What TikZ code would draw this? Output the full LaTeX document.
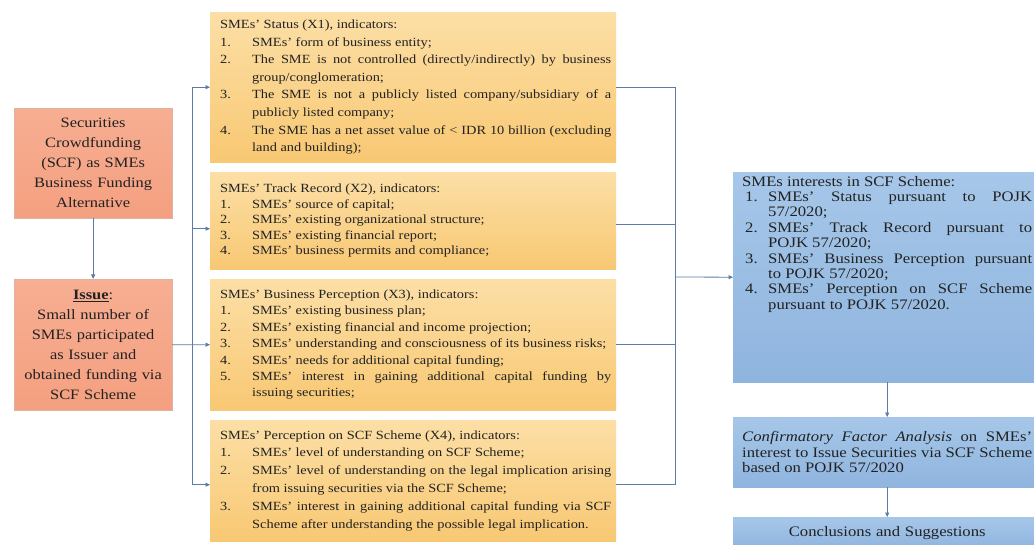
\documentclass[tikz,border=0pt]{standalone}
\usepackage{fontspec}
\setmainfont{Liberation Serif}[FakeStretch=1.15]
\usetikzlibrary{arrows.meta}
\definecolor{linec}{HTML}{5C7BA8}
\definecolor{orgA}{HTML}{F7AE92}
\definecolor{orgB}{HTML}{F4A080}
\definecolor{ylwA}{HTML}{FCDFA6}
\definecolor{ylwB}{HTML}{F8C873}
\definecolor{bluA}{HTML}{A6C7E9}
\definecolor{bluB}{HTML}{8FB4DE}
\definecolor{txt}{HTML}{222222}
\newcommand{\itm}[3]{\par\noindent\hangindent=#3\hangafter=1\makebox[#3][l]{#1}#2}
\newcommand{\lsk}[1]{\leftskip=#1\relax\noindent}
\begin{document}
\begin{tikzpicture}[x=1pt,y=-1pt,
  conn/.style={draw=linec,line width=0.8pt},
  arr/.style={conn,-{Triangle[length=4.5pt,width=4pt]}},
  orgbox/.style={draw=orgB!80!black!60,line width=0.3pt,top color=orgA,bottom color=orgB,
    anchor=north west,minimum width=158,minimum height=#1,text width=150,align=center,
    inner sep=0,text=txt,font=\fontsize{14.3}{20}\selectfont},
  ylwbox/.style={draw=none,top color=ylwA,bottom color=ylwB,
    anchor=north west,minimum width=406,minimum height=#1,text width=396,inner xsep=5,
    inner ysep=0,align=justify,text=txt},
  blubox/.style={draw=none,top color=bluA,bottom color=bluB,anchor=north west,
    minimum width=308,minimum height=#1,text width=290,inner xsep=9,inner ysep=0,
    align=justify,text=txt,font=\fontsize{14.5}{15.4}\selectfont}
]
\useasboundingbox (0,0) rectangle (1034,545);
\fill[white] (0,0) rectangle (1034,545);

% left column
\node[orgbox=110] (o1) at (14,108) {Securities\\Crowdfunding\\(SCF) as SMEs\\Business Funding\\Alternative};
\node[orgbox=131] (o2) at (14,279) {\underline{\textbf{Issue}}:\\Small number of\\SMEs participated\\as Issuer and\\obtained funding via\\SCF Scheme};

% middle column
\node[ylwbox=150,font=\fontsize{12.5}{17.6}\selectfont] (x1) at (210,12) {\lsk{5pt}SMEs' Status (X1), indicators:
\itm{1.}{SMEs' form of business entity;}{32pt}
\itm{2.}{The SME is not controlled (directly/indirectly) by business\linebreak group/conglomeration;}{32pt}
\itm{3.}{The SME is not a publicly listed company/subsidiary of a\linebreak publicly listed company;}{32pt}
\itm{4.}{The SME has a net asset value of < IDR 10 billion (excluding\linebreak land and building);}{32pt}\par};

\node[ylwbox=97,font=\fontsize{12.5}{15.4}\selectfont] (x2) at (210,172) {\lsk{5pt}SMEs' Track Record (X2), indicators:
\itm{1.}{SMEs' source of capital;}{32pt}
\itm{2.}{SMEs' existing organizational structure;}{32pt}
\itm{3.}{SMEs' existing financial report;}{32pt}
\itm{4.}{SMEs' business permits and compliance;}{32pt}\par};

\node[ylwbox=131,font=\fontsize{12.5}{16.4}\selectfont] (x3) at (210,279) {\lsk{5pt}SMEs' Business Perception (X3), indicators:
\itm{1.}{SMEs' existing business plan;}{32pt}
\itm{2.}{SMEs' existing financial and income projection;}{32pt}
\itm{3.}{SMEs' understanding and consciousness of its business risks;}{32pt}
\itm{4.}{SMEs' needs for additional capital funding;}{32pt}
\itm{5.}{SMEs' interest in gaining additional capital funding by\linebreak issuing securities;}{32pt}\par};

\node[ylwbox=121,font=\fontsize{12.5}{17.8}\selectfont] (x4) at (210,420) {\lsk{5pt}SMEs' Perception on SCF Scheme (X4), indicators:
\itm{1.}{SMEs' level of understanding on SCF Scheme;}{32pt}
\itm{2.}{SMEs' level of understanding on the legal implication arising\linebreak from issuing securities via the SCF Scheme;}{32pt}
\itm{3.}{SMEs' interest in gaining additional capital funding via SCF\linebreak Scheme after understanding the possible legal implication.}{32pt}\par};

% right column
\node[blubox=210] (b1) at (733,172) {\lsk{0pt}SMEs interests in SCF Scheme:
\itm{\hspace*{3pt}1.}{SMEs' Status pursuant to POJK\linebreak 57/2020;}{26pt}
\itm{\hspace*{3pt}2.}{SMEs' Track Record pursuant to\linebreak POJK 57/2020;}{26pt}
\itm{\hspace*{3pt}3.}{SMEs' Business Perception pursuant\linebreak to POJK 57/2020;}{26pt}
\itm{\hspace*{3pt}4.}{SMEs' Perception on SCF Scheme\linebreak pursuant to POJK 57/2020.}{26pt}\par\vspace*{66pt}};

\node[blubox=70] (b2) at (733,417) {\textit{Confirmatory Factor Analysis} on SMEs'\linebreak interest to Issue Securities via SCF Scheme\linebreak based on POJK 57/2020\par};

\node[blubox=32,align=center] (b3) at (733,517) {Conclusions and Suggestions};

% connectors
\coordinate (lt) at (192,345);
\coordinate (rt) at (675,277);
\draw[arr] (o1.south) -- (o2.north);
\draw[arr] (o2.east) -- (x3.west);
\draw[conn] (x1.west -| lt) -- ([yshift=-4pt]x4.west -| lt);
\draw[arr] (x1.west -| lt) -- (x1.west);
\draw[arr] ([yshift=-8pt]x2.west -| lt) -- ([yshift=-8pt]x2.west);
\draw[arr] ([yshift=-4pt]x4.west -| lt) -- ([yshift=-4pt]x4.west);
\draw[conn] (x1.east) -- (x1.east -| rt);
\draw[conn] ([yshift=-4pt]x2.east) -- ([yshift=-4pt]x2.east -| rt);
\draw[conn] (x3.east) -- (x3.east -| rt);
\draw[conn] ([yshift=-4pt]x4.east) -- ([yshift=-4pt]x4.east -| rt);
\draw[conn] (x1.east -| rt) -- ([yshift=-4pt]x4.east -| rt);
\draw[arr] (rt) -- (b1.west);
\draw[arr] (b1.south) -- (b2.north);
\draw[arr] (b2.south) -- (b3.north);
\end{tikzpicture}
\end{document}
